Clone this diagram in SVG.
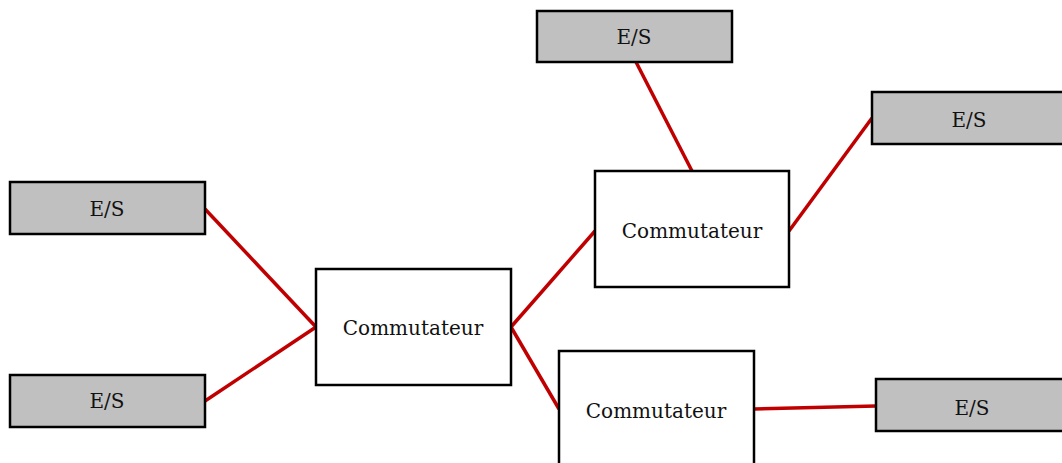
<svg xmlns="http://www.w3.org/2000/svg" width="1062" height="463" viewBox="0 0 1062 463">
<style>
.es{fill:#c0c0c0;stroke:#000;stroke-width:2.5}
.sw{fill:#fff;stroke:#000;stroke-width:2.5}
text{font-family:"DejaVu Serif","Liberation Serif",serif;font-size:20px;fill:#111;text-anchor:middle;dominant-baseline:central}
.c line{stroke:#c00000;stroke-width:3.5}
</style>
<rect width="1062" height="463" fill="#fff"/>
<g class="c" id="connectors">
<line x1="205" y1="209" x2="316" y2="327"/>
<line x1="205" y1="401" x2="316" y2="327"/>
<line x1="511" y1="327" x2="595" y2="231"/>
<line x1="511" y1="327" x2="559" y2="409"/>
<line x1="636" y1="62" x2="692" y2="171"/>
<line x1="789" y1="231" x2="872" y2="118"/>
<line x1="754" y1="409" x2="876" y2="406"/>
</g>
<g id="es1"><rect class="es" x="10" y="182" width="195" height="52"/><text x="107" y="209">E/S</text></g>
<g id="es2"><rect class="es" x="10" y="375" width="195" height="52"/><text x="107" y="401">E/S</text></g>
<g id="es3"><rect class="es" x="537" y="11" width="195" height="51"/><text x="634" y="37">E/S</text></g>
<g id="es4"><rect class="es" x="872" y="92" width="195" height="52"/><text x="969" y="120">E/S</text></g>
<g id="es5"><rect class="es" x="876" y="379" width="195" height="52"/><text x="972" y="408">E/S</text></g>
<g id="sw1"><rect class="sw" x="316" y="269" width="195" height="116"/><text x="413" y="328">Commutateur</text></g>
<g id="sw2"><rect class="sw" x="595" y="171" width="194" height="116"/><text x="692" y="231">Commutateur</text></g>
<g id="sw3"><rect class="sw" x="559" y="351" width="195" height="116"/><text x="656" y="411">Commutateur</text></g>
</svg>
